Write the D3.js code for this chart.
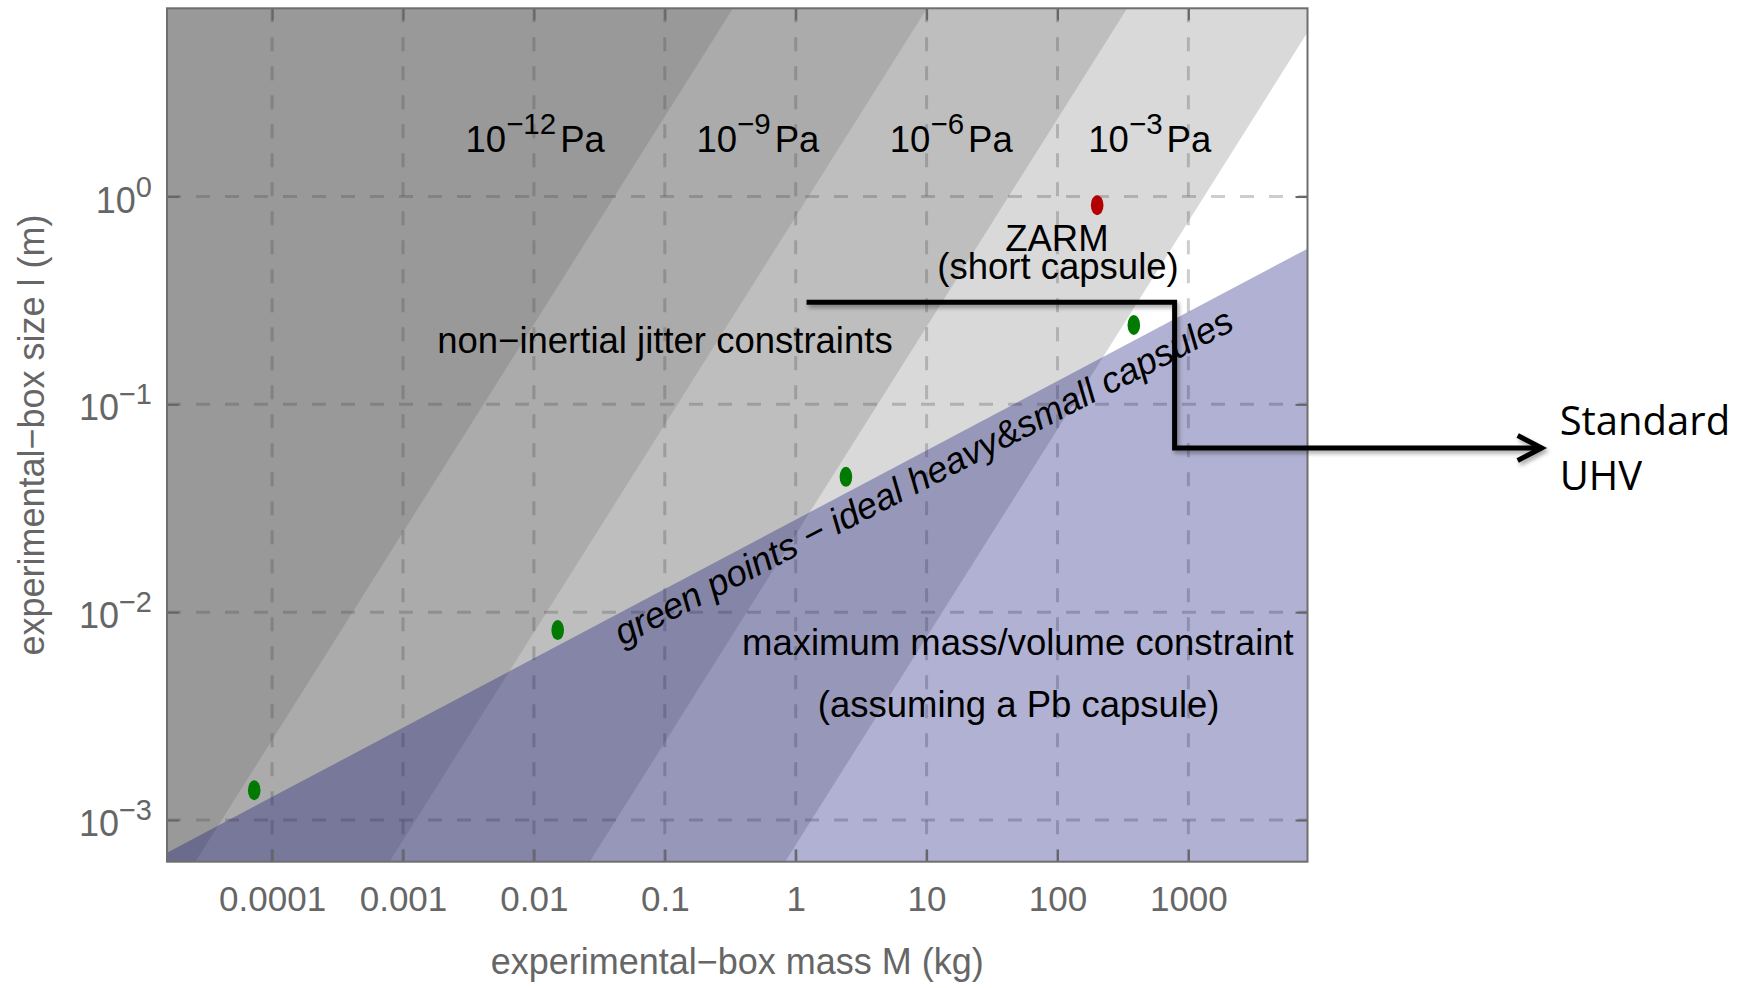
<!DOCTYPE html>
<html>
<head>
<meta charset="utf-8">
<script src="https://cdn.jsdelivr.net/npm/d3@7"></script>
<style>
  html, body { margin: 0; padding: 0; background: #ffffff; }
  svg { display: block; }
  text { font-family: "Liberation Sans", Arial, Helvetica, sans-serif; }
</style>
</head>
<body>
<svg id="chart" width="1739" height="988"></svg>
<script>
// ---- axis ticks -------------------------------------------------------
const massTicks = [1e-4, 1e-3, 1e-2, 1e-1, 1, 10, 100, 1000];
const massTickLabels = ["0.0001", "0.001", "0.01", "0.1", "1", "10", "100", "1000"];
const sizeTicks = [1, 0.1, 0.01, 0.001];
const sizeTickExponents = ["0", "\u22121", "\u22122", "\u22123"];

// ---- plotted range (kg, m) ------------------------------------------
const massRange = [1.574e-5, 8130];
const sizeRange = [6.3e-4, 8.05];

// ---- residual-pressure boundaries ------------------------------------
// each boundary is a straight line in log-log; mass where it crosses l = 1 m and l = 1 mm
const pressureExponents = ["\u221212", "\u22129", "\u22126", "\u22123"];
const pressureEdgeMassAt1m  = [0.0412, 1.25, 42.3, 1318];
const pressureEdgeMassAt1mm = [4.12e-5, 1.25e-3, 0.0423, 1.318];

// ---- maximum mass/volume edge (Pb capsule), two points on it ----------
const maxDensityEdgeMass = [1e-4, 1000];
const maxDensityEdgeSize = [1.29e-3, 0.279];

// ---- ideal heavy & small capsules (green) and ZARM short capsule (red) --
const idealMass = [7.3e-5, 0.0152, 2.42, 383];
const idealSize = [1.39e-3, 8.2e-3, 0.0448, 0.241];
const zarmMass = [201];
const zarmSize = [0.909];

// ---- standard UHV bracket (kg, m) -----------------------------------
const uhvMass = [1.21, 785, 785, 5.0e5];
const uhvSize = [0.31, 0.31, 0.0617, 0.0617];

// ---- layout -----------------------------------------------------------
const plot = { left: 167, right: 1307.5, top: 8.3, bottom: 861.7 };
const bandFill = ["#999999", "#ababab", "#bebebe", "#d9d9d9"];
const tickColor = "#666666";
const FS = 36;
const LABEL_FS = 36.5;

const svg = d3.select("#chart");

const x = d3.scaleLog().domain(massRange).range([plot.left, plot.right]);
const y = d3.scaleLog().domain(sizeRange).range([plot.bottom, plot.top]);

const defs = svg.append("defs");
defs.append("clipPath").attr("id", "plotClip")
  .append("rect")
  .attr("x", plot.left).attr("y", plot.top)
  .attr("width", plot.right - plot.left).attr("height", plot.bottom - plot.top);

const shadow = defs.append("filter").attr("id", "lineShadow")
  .attr("x", "-5%").attr("y", "-20%").attr("width", "115%").attr("height", "150%");
shadow.append("feDropShadow")
  .attr("dx", 2).attr("dy", 3).attr("stdDeviation", 2)
  .attr("flood-color", "#000").attr("flood-opacity", 0.35);

// log-log line through two points, evaluated at a given size / mass
function massOnLine(m1, l1, m2, l2, l) {
  const a = Math.log10(m1), b = Math.log10(m2);
  const p = Math.log10(l1), q = Math.log10(l2);
  return Math.pow(10, a + (Math.log10(l) - p) * (b - a) / (q - p));
}
function sizeOnLine(m1, l1, m2, l2, m) {
  const a = Math.log10(m1), b = Math.log10(m2);
  const p = Math.log10(l1), q = Math.log10(l2);
  return Math.pow(10, p + (Math.log10(m) - a) * (q - p) / (b - a));
}
const edgeSize = (m) => sizeOnLine(maxDensityEdgeMass[0], maxDensityEdgeSize[0],
                                   maxDensityEdgeMass[1], maxDensityEdgeSize[1], m);

const area = svg.append("g").attr("clip-path", "url(#plotClip)");

area.append("rect")
  .attr("x", plot.left).attr("y", plot.top)
  .attr("width", plot.right - plot.left).attr("height", plot.bottom - plot.top)
  .attr("fill", "#ffffff");

// pressure bands: region above-left of each boundary, lightest first
const lLow = sizeRange[0] / 10, lHigh = sizeRange[1] * 10;
const farLeft = plot.left - 200;
const bandIdx = d3.range(pressureEdgeMassAt1m.length).reverse();
area.selectAll("path.band")
  .data(bandIdx)
  .join("path")
  .attr("class", "band")
  .attr("fill", i => bandFill[i])
  .attr("d", i => {
    const mLo = massOnLine(pressureEdgeMassAt1m[i], 1, pressureEdgeMassAt1mm[i], 0.001, lLow);
    const mHi = massOnLine(pressureEdgeMassAt1m[i], 1, pressureEdgeMassAt1mm[i], 0.001, lHigh);
    return d3.line()([
      [x(mLo), y(lLow)], [x(mHi), y(lHigh)],
      [farLeft, y(lHigh)], [farLeft, y(lLow)]
    ]) + "Z";
  });

// dashed grid
const grid = area.append("g")
  .attr("stroke", "rgba(70,70,70,0.27)")
  .attr("stroke-width", 3)
  .attr("stroke-dasharray", "14,15")
  .attr("fill", "none");
grid.selectAll("line.v").data(massTicks).join("line").attr("class", "v")
  .attr("x1", d => x(d)).attr("x2", d => x(d))
  .attr("y1", plot.top).attr("y2", plot.bottom);
grid.selectAll("line.h").data(sizeTicks).join("line").attr("class", "h")
  .attr("y1", d => y(d)).attr("y2", d => y(d))
  .attr("x1", plot.left).attr("x2", plot.right);

// maximum mass/volume region (below the Pb edge)
{
  const m0 = massRange[0] / 10, m1 = massRange[1] * 10;
  area.append("path")
    .attr("fill", "rgb(12,16,118)")
    .attr("fill-opacity", 0.32)
    .attr("d", d3.line()([
      [x(m0), y(edgeSize(m0))], [x(m1), y(edgeSize(m1))],
      [x(m1), y(lLow)], [x(m0), y(lLow)]
    ]) + "Z");
}

// ---- axes ------------------------------------------------------------
function styleAxis(g) {
  g.select(".domain").remove();
  g.selectAll(".tick line").attr("stroke", tickColor).attr("stroke-width", 2);
  g.selectAll(".tick text").attr("fill", tickColor)
    .style("font-family", "'Liberation Sans', Arial, sans-serif");
}

const gx = svg.append("g").attr("transform", `translate(0,${plot.bottom})`)
  .call(d3.axisBottom(x).tickValues(massTicks)
    .tickFormat((d, i) => massTickLabels[i]).tickSize(-12))
  .call(styleAxis);
gx.selectAll(".tick text")
  .attr("y", 49.5).attr("dy", null)
  .attr("font-size", 35);

const gy = svg.append("g").attr("transform", `translate(${plot.left},0)`)
  .call(d3.axisLeft(y).tickValues(sizeTicks).tickFormat(() => "").tickSize(-12))
  .call(styleAxis);
gy.selectAll(".tick text")
  .attr("x", -15).attr("y", 15.5).attr("dy", null)
  .attr("text-anchor", "end")
  .attr("font-size", 36)
  .each(function (d, i) {
    const t = d3.select(this);
    t.text(null);
    t.append("tspan").text("10");
    t.append("tspan").attr("font-size", 29).attr("dy", -16).text(sizeTickExponents[i]);
  });

svg.append("g").attr("transform", `translate(0,${plot.top})`)
  .call(d3.axisTop(x).tickValues(massTicks).tickFormat(() => "").tickSize(-12))
  .call(styleAxis);
svg.append("g").attr("transform", `translate(${plot.right},0)`)
  .call(d3.axisRight(y).tickValues(sizeTicks).tickFormat(() => "").tickSize(-12))
  .call(styleAxis);

// frame
svg.append("rect")
  .attr("x", plot.left).attr("y", plot.top)
  .attr("width", plot.right - plot.left).attr("height", plot.bottom - plot.top)
  .attr("fill", "none").attr("stroke", "#6e6e6e").attr("stroke-width", 2);

// axis titles
svg.append("text")
  .attr("x", (plot.left + plot.right) / 2).attr("y", 974)
  .attr("text-anchor", "middle").attr("font-size", FS).attr("fill", tickColor)
  .text("experimental\u2212box mass M (kg)");
svg.append("text")
  .attr("transform", `translate(44,${(plot.top + plot.bottom) / 2}) rotate(-90)`)
  .attr("text-anchor", "middle").attr("font-size", FS).attr("fill", tickColor)
  .text("experimental\u2212box size l (m)");

// ---- points ----------------------------------------------------------
const marks = svg.append("g").attr("clip-path", "url(#plotClip)");
marks.selectAll("ellipse.ideal")
  .data(d3.range(idealMass.length))
  .join("ellipse").attr("class", "ideal")
  .attr("cx", i => x(idealMass[i])).attr("cy", i => y(idealSize[i]))
  .attr("rx", 6.3).attr("ry", 10)
  .attr("fill", "#007a00");
marks.selectAll("ellipse.zarm")
  .data(d3.range(zarmMass.length))
  .join("ellipse").attr("class", "zarm")
  .attr("cx", i => x(zarmMass[i])).attr("cy", i => y(zarmSize[i]))
  .attr("rx", 6.3).attr("ry", 10)
  .attr("fill", "#b30000");

// ---- in-plot labels ---------------------------------------------------
const pressureLabelMass = [0.01023, 0.515, 15.44, 507];
const pressureLabelSize = 1.645;
const labels = svg.append("g").attr("fill", "#000");

pressureExponents.forEach((ex, i) => {
  const t = labels.append("text")
    .attr("x", x(pressureLabelMass[i])).attr("y", y(pressureLabelSize))
    .attr("text-anchor", "middle").attr("font-size", LABEL_FS);
  t.append("tspan").text("10");
  t.append("tspan").attr("font-size", 29.5).attr("dy", -18).text(ex);
  t.append("tspan").attr("dy", 18).attr("dx", 4).text("Pa");
});

const notes = [
  { text: "non\u2212inertial jitter constraints", m: 0.1002, l: 0.176 },
  { text: "ZARM", m: 99, l: 0.548 },
  { text: "(short capsule)", m: 101, l: 0.40 },
  { text: "maximum mass/volume constraint", m: 49.8, l: 6.22e-3 },
  { text: "(assuming a Pb capsule)", m: 50.5, l: 3.14e-3 }
];
labels.selectAll("text.note").data(notes).join("text").attr("class", "note")
  .attr("x", d => x(d.m)).attr("y", d => y(d.l))
  .attr("text-anchor", "middle").attr("font-size", LABEL_FS)
  .text(d => d.text);

// label running along the Pb edge
{
  const p1 = [x(maxDensityEdgeMass[0]), y(edgeSize(maxDensityEdgeMass[0]))];
  const p2 = [x(maxDensityEdgeMass[1]), y(edgeSize(maxDensityEdgeMass[1]))];
  const ang = Math.atan2(p2[1] - p1[1], p2[0] - p1[0]);
  const mid = 7.9;
  const off = 34;
  const px = x(mid) - Math.sin(ang) * off;
  const py = y(edgeSize(mid)) + Math.cos(ang) * off;
  labels.append("text")
    .attr("transform", `translate(${px},${py}) rotate(${ang * 180 / Math.PI + 0.6})`)
    .attr("text-anchor", "middle").attr("font-size", LABEL_FS).attr("font-style", "italic")
    .text("green points \u2212 ideal heavy&small capsules");
}

// ---- standard UHV bracket --------------------------------------------
{
  const pts = uhvMass.map((m, i) => [x(m), y(uhvSize[i])]);
  const tip = pts[pts.length - 1];
  const g = svg.append("g").attr("filter", "url(#lineShadow)")
    .attr("stroke", "#000").attr("stroke-width", 5).attr("fill", "none");
  g.append("path").attr("d", d3.line()(pts)).attr("stroke-linejoin", "miter");
  g.append("path").attr("d", d3.line()([
    [tip[0] - 24, tip[1] - 12.5], tip, [tip[0] - 24, tip[1] + 12.5]
  ])).attr("stroke-linejoin", "miter");

  const uhv = svg.append("text")
    .attr("x", tip[0] + 18).attr("y", tip[1] - 13)
    .attr("font-size", 40).attr("fill", "#000")
    .style("font-family", "'Open Sans', 'Noto Sans', sans-serif");
  uhv.append("tspan").text("Standard");
  uhv.append("tspan").attr("x", tip[0] + 18).attr("dy", 55).text("UHV");
}
</script>
</body>
</html>
